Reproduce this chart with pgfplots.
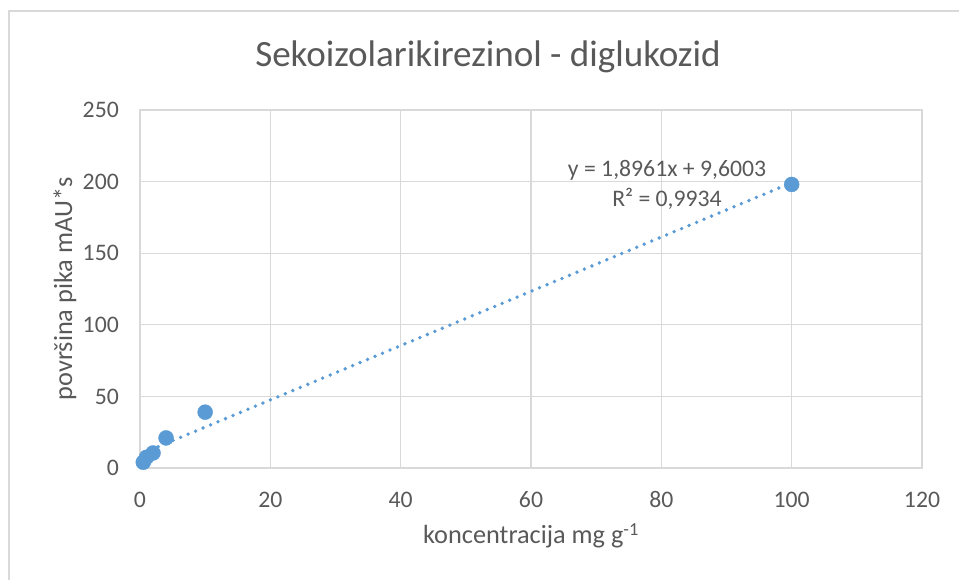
\documentclass[border=0pt]{standalone}
\usepackage{fontspec}
\setmainfont{Carlito}
\usepackage{pgfplots}
\pgfplotsset{compat=1.18}
\definecolor{mblue}{HTML}{5B9BD5}
\definecolor{gridc}{HTML}{D9D9D9}
\definecolor{txt}{HTML}{595959}
\begin{document}
\begin{tikzpicture}[x=1bp,y=1bp]
\useasboundingbox (0,0) rectangle (959,580);
\draw[gridc, line width=2bp] (9,0) -- (9,569) -- (959,569);
\begin{axis}[
  at={(140bp,112bp)}, anchor=south west,
  width=782bp, height=358bp, scale only axis,
  xmin=0, xmax=120, ymin=0, ymax=250,
  xtick={0,20,...,120}, ytick={0,50,...,250},
  grid=major, major grid style={gridc, line width=1.2bp},
  axis line style={gridc, line width=1.2bp},
  major tick length=0pt,
  /pgf/number format/assume math mode=true,
  tick label style={font=\fontsize{23.8}{28}\selectfont, text=txt},
  xticklabel style={anchor=base, inner sep=0pt, yshift=-40bp},
  yticklabel style={anchor=east, inner sep=0pt, xshift=-21bp},
  clip=false,
]
\addplot[mblue, line width=3.8bp, line cap=round, dash pattern=on 0pt off 8.1bp]
  coordinates {(0.5,10.548) (100,199.21)};
\addplot[only marks, mark=*, mark size=7.5bp, mblue, mark options={draw=mblue, fill=mblue}]
  coordinates {(0.5,4) (1,7.5) (2,10.5) (4,21) (10,39) (100,198)};
\end{axis}
\node[text=txt, font=\fontsize{37.2}{42}\selectfont] at (488,523) {Sekoizolarikirezinol - diglukozid};
\node[text=txt, font=\fontsize{26.4}{30}\selectfont, anchor=base] at (531,36) {koncentracija mg g\textsuperscript{-1}};
\node[text=txt, font=\fontsize{26.4}{30}\selectfont, rotate=90] at (65,291) {površina pika mAU*s};
\node[text=txt, font=\fontsize{23.8}{28}\selectfont] at (667,410) {y = 1,8961x + 9,6003};
\node[text=txt, font=\fontsize{23.8}{28}\selectfont] at (667,381) {R² = 0,9934};
\end{tikzpicture}
\end{document}
